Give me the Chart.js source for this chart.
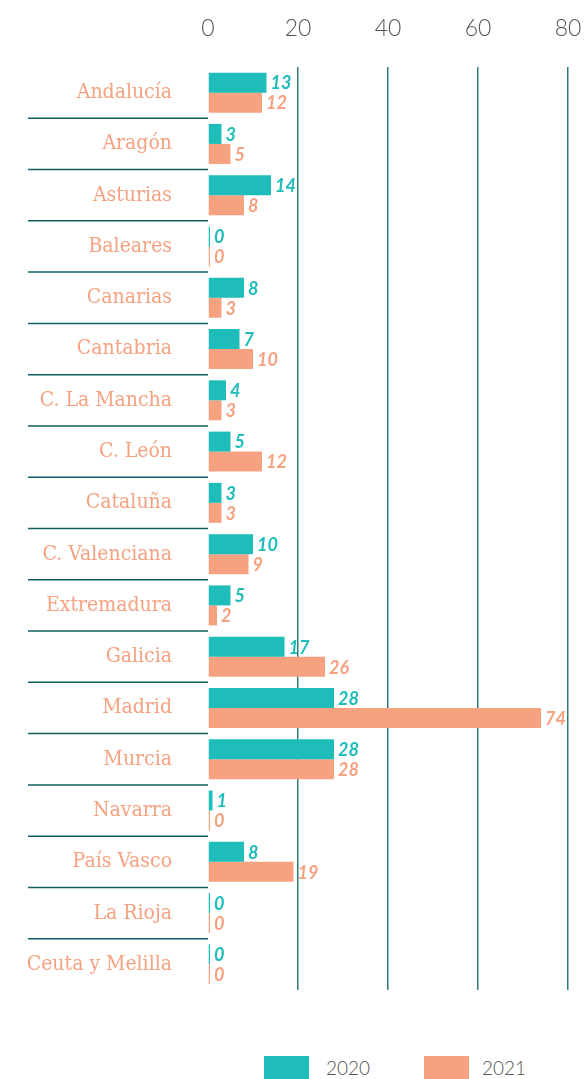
<!DOCTYPE html>
<html>
<head>
<meta charset="utf-8">
<script src="https://cdn.jsdelivr.net/npm/chart.js@4.4.1/dist/chart.umd.min.js"></script>
<style>
  body { margin: 0; background: #fff; }
  #wrap { position: relative; width: 586px; height: 1079px; overflow: hidden; }
  .leg { position: absolute; top: 1056px; font: 300 19px Lato, sans-serif; color: #555; }
  .leg span { position: absolute; top: 0; width: 45px; height: 23px; }
  .leg b { position: absolute; top: 0; font-weight: 300; }
</style>
</head>
<body>
<div id="wrap">
  <canvas id="chart" width="586" height="1000"></canvas>
  <div id="legend"></div>
</div>
<script>
const regions = ['Andalucía', 'Aragón', 'Asturias', 'Baleares', 'Canarias', 'Cantabria',
  'C. La Mancha', 'C. León', 'Cataluña', 'C. Valenciana', 'Extremadura', 'Galicia',
  'Madrid', 'Murcia', 'Navarra', 'País Vasco', 'La Rioja', 'Ceuta y Melilla'];
const values2020 = [13, 3, 14, 0, 8, 7, 4, 5, 3, 10, 5, 17, 28, 28, 1, 8, 0, 0];
const values2021 = [12, 5, 8, 0, 3, 10, 3, 12, 3, 9, 2, 26, 74, 28, 0, 19, 0, 0];
const xTicks = [0, 20, 40, 60, 80];
const seriesNames = ['2020', '2021'];

const teal = '#1ebdb9';
const salmon = '#f6a281';
const darkTeal = '#0f5e62';

// labels after each bar, in the bar colour
const valueLabels = {
    id: 'valueLabels',
    afterDatasetsDraw(chart) {
        const ctx = chart.ctx;
        ctx.save();
        ctx.font = 'italic bold 18px Lato, sans-serif';
        ctx.textBaseline = 'middle';
        ctx.textAlign = 'left';
        chart.data.datasets.forEach((ds, i) => {
            ctx.fillStyle = ds.backgroundColor;
            chart.getDatasetMeta(i).data.forEach((bar, j) => {
                ctx.fillText(ds.data[j], bar.x + 4, bar.y + 1);
            });
        });
        ctx.restore();
    }
};

// dark lines between the region names
const rowLines = {
    id: 'rowLines',
    afterDraw(chart) {
        const y = chart.scales.y;
        const ctx = chart.ctx;
        ctx.save();
        ctx.strokeStyle = darkTeal;
        ctx.lineWidth = 1.5;
        for (let i = 0; i < regions.length - 1; i++) {
            const yy = (y.getPixelForValue(i) + y.getPixelForValue(i + 1)) / 2;
            ctx.beginPath();
            ctx.moveTo(28, yy);
            ctx.lineTo(chart.chartArea.left, yy);
            ctx.stroke();
        }
        ctx.restore();
    }
};

new Chart(document.getElementById('chart'), {
    type: 'bar',
    data: {
        labels: regions,
        datasets: [
            { label: seriesNames[0], data: values2020, backgroundColor: teal },
            { label: seriesNames[1], data: values2021, backgroundColor: salmon },
        ],
    },
    options: {
        indexAxis: 'y',
        responsive: false,
        animation: false,
        layout: { padding: { top: 0, right: 18, bottom: 10, left: 0 } },
        datasets: {
            bar: { categoryPercentage: 0.78, barPercentage: 1, minBarLength: 2 },
        },
        plugins: {
            legend: { display: false },
            tooltip: { enabled: false },
        },
        scales: {
            x: {
                position: 'top',
                min: 0,
                max: 80,
                afterBuildTicks: (s) => { s.ticks = xTicks.map((v) => ({ value: v })); },
                afterFit: (s) => {
                    s.height = 67;
                    s.paddingLeft = 0;
                    s.paddingRight = 0;
                },
                border: { display: false },
                grid: {
                    drawTicks: false,
                    lineWidth: 1.5,
                    color: (c) => (c.tick && c.tick.value === 0 ? 'rgba(0,0,0,0)' : '#2b7b7f'),
                },
                ticks: {
                    padding: 25,
                    color: '#555',
                    font: { family: 'Lato', size: 23, weight: 300 },
                },
            },
            y: {
                afterFit: (s) => {
                    s.width = 208;
                    s.paddingTop = 0;
                    s.paddingBottom = 0;
                },
                border: { display: false },
                grid: { display: false, drawTicks: false },
                ticks: {
                    padding: 36,
                    color: salmon,
                    font: { family: 'DejaVu Serif Condensed', size: 21 },
                },
            },
        },
    },
    plugins: [valueLabels, rowLines],
});

// legend under the chart
const legend = document.getElementById('legend');
[[264, 326, teal], [424, 482, salmon]].forEach(([bx, tx, col], i) => {
    const el = document.createElement('div');
    el.className = 'leg';
    el.style.left = bx + 'px';
    el.innerHTML = '<span style="background:' + col + ';left:0"></span><b style="left:' + (tx - bx) + 'px">' + seriesNames[i] + '</b>';
    legend.appendChild(el);
});
</script>
</body>
</html>
